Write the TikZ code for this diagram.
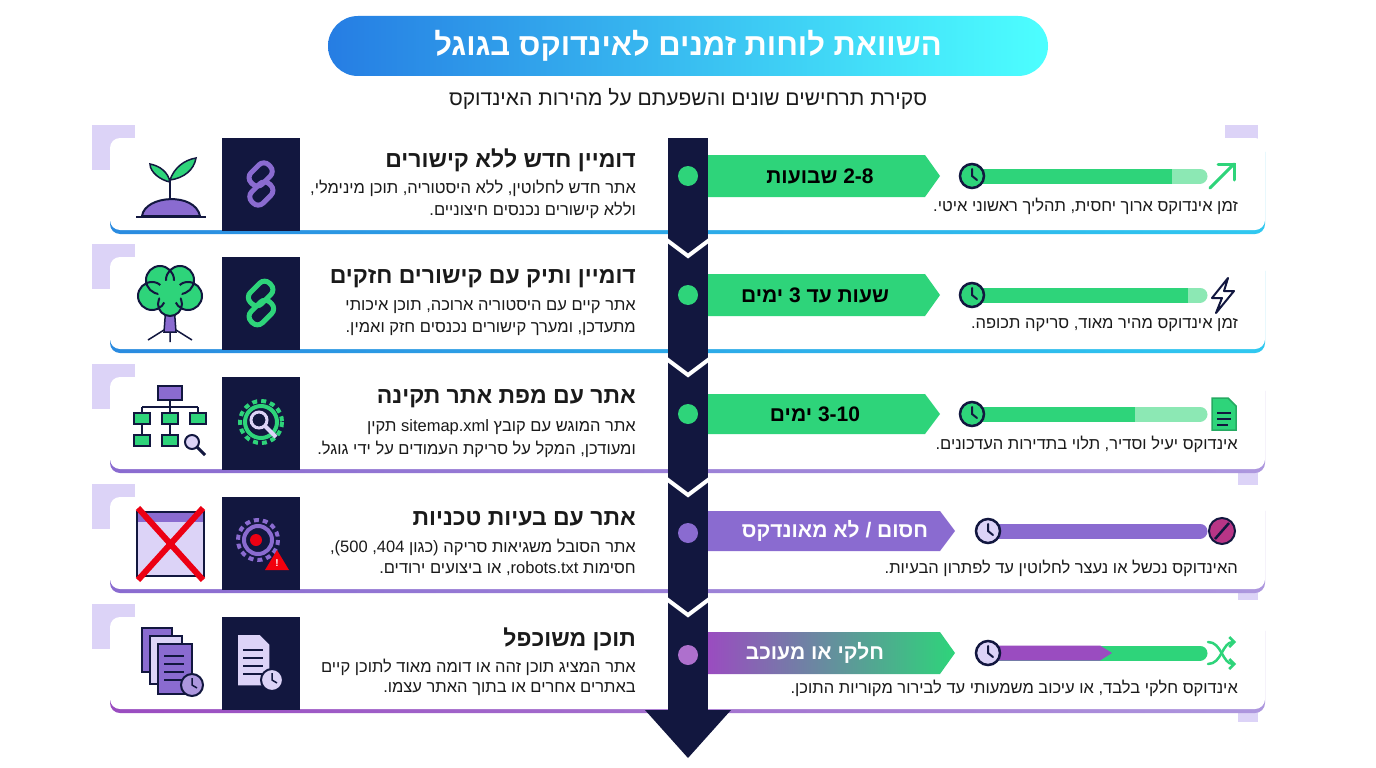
\documentclass[tikz,border=0pt]{standalone}
\usepackage{fontspec}
\setmainfont{Liberation Sans}
\newfontfamily\heb[Script=Hebrew]{Liberation Sans}
\TeXXeTstate=1
\usetikzlibrary{shapes.geometric,shadings,arrows.meta}
\definecolor{navy}{HTML}{12173F}
\definecolor{grn}{HTML}{2ED47A}
\definecolor{grnl}{HTML}{8CE8B4}
\definecolor{pur}{HTML}{8A6BD0}
\definecolor{purd}{HTML}{9A4CC0}
\definecolor{lav}{HTML}{DCD3F7}
\definecolor{blu}{HTML}{2A8BE0}
\definecolor{cyn}{HTML}{30C8F0}
\definecolor{txt}{HTML}{1A1A1A}
\tikzset{
 cardbox/.style={fill=white,rounded corners=10pt},
 ttl/.style={anchor=east,font=\heb\bfseries\fontsize{23}{26}\selectfont,text=txt,inner sep=0},
 dsc/.style={anchor=east,font=\heb\fontsize{16.5}{19}\selectfont,text=txt,inner sep=0},
 tagt/.style={font=\heb\bfseries\fontsize{21}{24}\selectfont,inner sep=0},
 clk/.style={circle,draw=navy,line width=2.5pt,minimum size=24pt,inner sep=0},
 dot/.style={circle,minimum size=20pt,inner sep=0},
 sq/.style={fill=navy,minimum width=78pt,minimum height=93pt,inner sep=0,anchor=north west},
}
\newcommand\cardat[3]{%
 \fill[lav] (92,#1-13) rectangle (135,#1+32);
 \shade[left color=#2,right color=#3,rounded corners=10pt] (110,#1+4) rectangle (1265,#1+96);
 \fill[cardbox] (110,#1) rectangle (1265,#1+92);
}
\begin{document}
\begin{tikzpicture}[x=1pt,y=-1pt]
\useasboundingbox (0,0) rectangle (1376,768);
\fill[white] (0,0) rectangle (1376,768);
% title
\shade[rounded corners=30pt,left color=blu!90!blue,right color=cyan!70!white] (328,16) rectangle (1048,76);
\node[font=\heb\bfseries\fontsize{31}{34}\selectfont,text=white] (title) at (688,46) {\beginR השוואת לוחות זמנים לאינדוקס בגוגל\endR};
\node[font=\heb\fontsize{21}{24}\selectfont,text=txt] (sub) at (688,99) {\beginR סקירת תרחישים שונים והשפעתם על מהירות האינדוקס\endR};
% right lavender decos
\fill[lav] (1225,125) rectangle (1258,168);
\fill[lav] (1238,315) rectangle (1258,340);
\fill[lav] (1238,435) rectangle (1258,485);
\fill[lav] (1238,555) rectangle (1258,600);
\fill[lav] (1238,675) rectangle (1258,722);
% cards
\cardat{138}{blu}{cyn}
\cardat{257}{blu}{cyn}
\cardat{377}{pur}{pur!70}
\cardat{497}{pur}{pur!70}
\cardat{617}{purd}{pur!70}
% spine
\fill[navy] (668,138) rectangle (708,712);
\fill[navy] (645,710) -- (731,710) -- (688,758) -- cycle;
\foreach \g in {232,351,471,591}{
 \draw[white,line width=4pt] (664,\g+6) -- (688,\g+24) -- (712,\g+6);
}
% dark squares
\foreach \t in {138,257,377,497,617}{ \node[sq] at (222,\t) {}; }

% ===== rows text =====
\node[ttl] (t1) at (636,160) {\beginR דומיין חדש ללא קישורים\endR};
\node[dsc] (d1a) at (636,188) {\beginR אתר חדש לחלוטין, ללא היסטוריה, תוכן מינימלי,\endR};
\node[dsc] (d1b) at (636,210) {\beginR וללא קישורים נכנסים חיצוניים.\endR};
\node[ttl] (t2) at (636,279) {\beginR דומיין ותיק עם קישורים חזקים\endR};
\node[dsc] (d2a) at (636,307) {\beginR אתר קיים עם היסטוריה ארוכה, תוכן איכותי\endR};
\node[dsc] (d2b) at (636,329) {\beginR מתעדכן, ומערך קישורים נכנסים חזק ואמין.\endR};
\node[ttl] (t3) at (636,399) {\beginR אתר עם מפת אתר תקינה\endR};
\node[dsc] (d3a) at (636,427) {\beginR אתר המוגש עם קובץ \beginL sitemap.xml\endL{} תקין\endR};
\node[dsc] (d3b) at (636,449) {\beginR ומעודכן, המקל על סריקת העמודים על ידי גוגל.\endR};
\node[ttl] (t4) at (636,519) {\beginR אתר עם בעיות טכניות\endR};
\node[dsc] (d4a) at (636,547) {\beginR אתר הסובל משגיאות סריקה (כגון \beginL404\endL, \beginL500\endL),\endR};
\node[dsc] (d4b) at (636,569) {\beginR חסימות \beginL robots.txt\endL{}, או ביצועים ירודים.\endR};
\node[ttl] (t5) at (636,639) {\beginR תוכן משוכפל\endR};
\node[dsc] (d5a) at (636,667) {\beginR אתר המציג תוכן זהה או דומה מאוד לתוכן קיים\endR};
\node[dsc] (d5b) at (636,689) {\beginR באתרים אחרים או בתוך האתר עצמו.\endR};

% ===== right side =====
\fill[grn] (708,155) -- (925,155) -- (940,176) -- (925,197) -- (708,197) -- cycle;
\node[tagt] (g1) at (820,176) {\beginR \beginL 2-8\endL{} שבועות\endR};
\fill[grn] (708,274) -- (925,274) -- (940,295) -- (925,316) -- (708,316) -- cycle;
\node[tagt] (g2) at (815,295) {\beginR שעות עד \beginL 3\endL{} ימים\endR};
\fill[grn] (708,394) -- (925,394) -- (940,414) -- (925,434) -- (708,434) -- cycle;
\node[tagt] (g3) at (815,414) {\beginR \beginL 3-10\endL{} ימים\endR};
\fill[pur] (708,511) -- (940,511) -- (955,531) -- (940,551) -- (708,551) -- cycle;
\node[tagt,text=white] (g4) at (835,531) {\beginR חסום / לא מאונדקס\endR};
\shade[left color=purd,right color=grn] (708,632) -- (940,632) -- (955,653) -- (940,674) -- (708,674) -- cycle;
\node[tagt,text=white] (g5) at (815,653) {\beginR חלקי או מעוכב\endR};
\node[dot,fill=grn] (p1) at (688,176) {};
\node[dot,fill=grn] (p2) at (688,295) {};
\node[dot,fill=grn] (p3) at (688,414) {};
\node[dot,fill=pur] (p4) at (688,533) {};
\node[dot,fill=purd!80] (p5) at (688,655) {};
\draw[grnl,line width=15pt,line cap=round] (980,176) -- (1200,176);
\draw[grn,line width=15pt] (980,176) -- (1172,176);
\draw[grnl,line width=15pt,line cap=round] (980,295) -- (1200,295);
\draw[grn,line width=15pt] (980,295) -- (1188,295);
\draw[grnl,line width=15pt,line cap=round] (980,414) -- (1200,414);
\draw[grn,line width=15pt] (980,414) -- (1135,414);
\draw[pur,line width=15pt,line cap=round] (990,531) -- (1200,531);
\draw[grn,line width=15pt,line cap=round] (990,653) -- (1200,653);
\fill[purd] (990,645.5) -- (1100,645.5) -- (1112,653) -- (1100,660.5) -- (990,660.5) -- cycle;
\foreach \cy/\cf/\cx [count=\i] in {176/grn/972,295/grn/972,414/grn/972,531/lav/988,653/lav/988}{
 \node[clk,fill=\cf] (c\i) at (\cx,\cy) {};
 \draw[navy,line width=2pt,line cap=round] (\cx,\cy-7) -- (\cx,\cy) -- (\cx+5,\cy+4);
}
\draw[grn,line width=3pt,line cap=round] (1210,188) -- (1234,164);
\draw[grn,line width=3pt,line cap=round] (1218,164) -- (1234,164) -- (1234,180);
\draw[navy,line width=2pt,line join=round] (1228,278) -- (1212,298) -- (1222,298) -- (1216,313) -- (1234,291) -- (1224,291) -- cycle;
\draw[grn!80!black,fill=grn,line width=1.5pt] (1212,398) -- (1228,398) -- (1236,406) -- (1236,430) -- (1212,430) -- cycle;
\draw[navy,line width=1.5pt] (1217,413) -- (1231,413) (1217,419) -- (1231,419) (1217,425) -- (1228,425);
\node[circle,fill=purd!70!red,draw=navy,line width=2pt,minimum size=26pt,inner sep=0] (i4) at (1222,531) {};
\draw[navy,line width=2.5pt] (1215,539) -- (1229,523);
\draw[grn,line width=2.5pt,line cap=round,-{Straight Barb[length=5pt]}] (1208,642) .. controls (1222,642) and (1222,664) .. (1236,664);
\draw[grn,line width=2.5pt,line cap=round,-{Straight Barb[length=5pt]}] (1208,664) .. controls (1222,664) and (1222,642) .. (1236,642);
\node[dsc] (r1) at (1238,206) {\beginR זמן אינדוקס ארוך יחסית, תהליך ראשוני איטי.\endR};
\node[dsc] (r2) at (1238,325) {\beginR זמן אינדוקס מהיר מאוד, סריקה תכופה.\endR};
\node[dsc] (r3) at (1238,444) {\beginR אינדוקס יעיל וסדיר, תלוי בתדירות העדכונים.\endR};
\node[dsc] (r4) at (1238,568) {\beginR האינדוקס נכשל או נעצר לחלוטין עד לפתרון הבעיות.\endR};
\node[dsc] (r5) at (1238,688) {\beginR אינדוקס חלקי בלבד, או עיכוב משמעותי עד לבירור מקוריות התוכן.\endR};

% ===== left icons =====
\draw[navy,line width=2pt,fill=pur] (142,216) .. controls (145,195) and (195,192) .. (200,216) -- cycle;
\draw[navy,line width=2pt] (136,217) -- (206,217);
\draw[navy,line width=2pt] (170,200) -- (170,178);
\draw[navy,line width=1.5pt,fill=grn] (170,182) .. controls (160,180) and (150,172) .. (150,164) .. controls (160,166) and (168,172) .. (170,182);
\draw[navy,line width=1.5pt,fill=grn] (170,180) .. controls (174,168) and (184,160) .. (196,158) .. controls (194,170) and (184,178) .. (170,180);
\draw[pur,line width=5pt,rounded corners=7pt,rotate around={-45:(261,184)}] (246,165) rectangle (262,190);
\draw[pur,line width=5pt,rounded corners=7pt,rotate around={-45:(261,184)}] (260,178) rectangle (276,203);
\draw[navy,line width=1.5pt,fill=pur] (164,332) -- (166,305) -- (174,305) -- (176,332) -- cycle;
\draw[navy,line width=1.5pt] (164,330) -- (148,340) (176,330) -- (192,340) (170,332) -- (170,342);
\draw[navy,line width=2pt,fill=grn] (170,304) circle (12) (152,296) circle (14) (188,296) circle (14) (160,280) circle (14) (180,280) circle (14);
\fill[grn] (170,292) circle (12);
\draw[grn,line width=5pt,rounded corners=7pt,rotate around={-45:(261,303)}] (246,283) rectangle (262,310);
\draw[grn,line width=5pt,rounded corners=7pt,rotate around={-45:(261,303)}] (260,296) rectangle (276,323);
\draw[navy,line width=1.5pt,fill=pur] (158,386) rectangle (182,400);
\draw[navy,line width=1.5pt] (170,400) -- (170,407) (142,407) -- (198,407) (142,407) -- (142,413) (170,407) -- (170,413) (198,407) -- (198,413);
\foreach \xx in {142,170}{ \draw[navy,line width=1.5pt,fill=grn] (\xx-8,413) rectangle (\xx+8,424); \draw[navy,line width=1.5pt,fill=grn] (\xx-8,435) rectangle (\xx+8,446); \draw[navy,line width=1.5pt] (\xx,424) -- (\xx,435); }
\draw[navy,line width=1.5pt,fill=grn] (190,413) rectangle (206,424);
\draw[navy,line width=2pt,fill=lav] (192,442) circle (7); \draw[navy,line width=3pt] (197,447) -- (205,455);
\draw[grn,line width=4pt,dash pattern=on 5pt off 4pt] (261,422) circle (21);
\draw[grn,line width=4pt] (261,422) circle (16);
\draw[lav,line width=3pt,fill=navy] (259,420) circle (8); \draw[lav,line width=4pt] (265,426) -- (276,437);
\draw[navy,line width=2pt,fill=lav] (137,512) rectangle (204,576);
\fill[pur] (138,513) rectangle (203,522);
\draw[red!70!purple,line width=6pt] (138,508) -- (203,580) (203,508) -- (138,580);
\draw[pur,line width=4pt,dash pattern=on 5pt off 4pt] (258,540) circle (20);
\draw[pur,line width=4pt] (258,540) circle (14);
\fill[red!70!purple] (256,540) circle (6);
\fill[red!80!purple] (277,550) -- (289,570) -- (265,570) -- cycle;
\node[text=white,font=\bfseries\fontsize{10}{10}\selectfont,inner sep=0] (w4) at (277,563) {!};
\draw[navy,line width=1.5pt,fill=pur] (142,628) rectangle (172,672);
\draw[navy,line width=1.5pt,fill=lav] (150,636) rectangle (182,684);
\draw[navy,line width=1.5pt,fill=pur] (158,644) rectangle (192,694);
\foreach \yy in {656,664,672,680}{ \draw[navy,line width=1.2pt] (164,\yy) -- (184,\yy); }
\draw[navy,line width=2pt,fill=pur!70] (192,685) circle (11); \draw[navy,line width=1.5pt] (192,678) -- (192,685) -- (197,688);
\draw[navy,line width=1.5pt,fill=lav] (237,634) -- (260,634) -- (270,644) -- (270,686) -- (237,686) -- cycle;
\foreach \yy in {650,658,666,674}{ \draw[navy,line width=1.2pt] (243,\yy) -- (263,\yy); }
\draw[navy,line width=2pt,fill=lav] (272,680) circle (11); \draw[navy,line width=1.5pt] (272,673) -- (272,680) -- (277,683);
\end{tikzpicture}
\end{document}
